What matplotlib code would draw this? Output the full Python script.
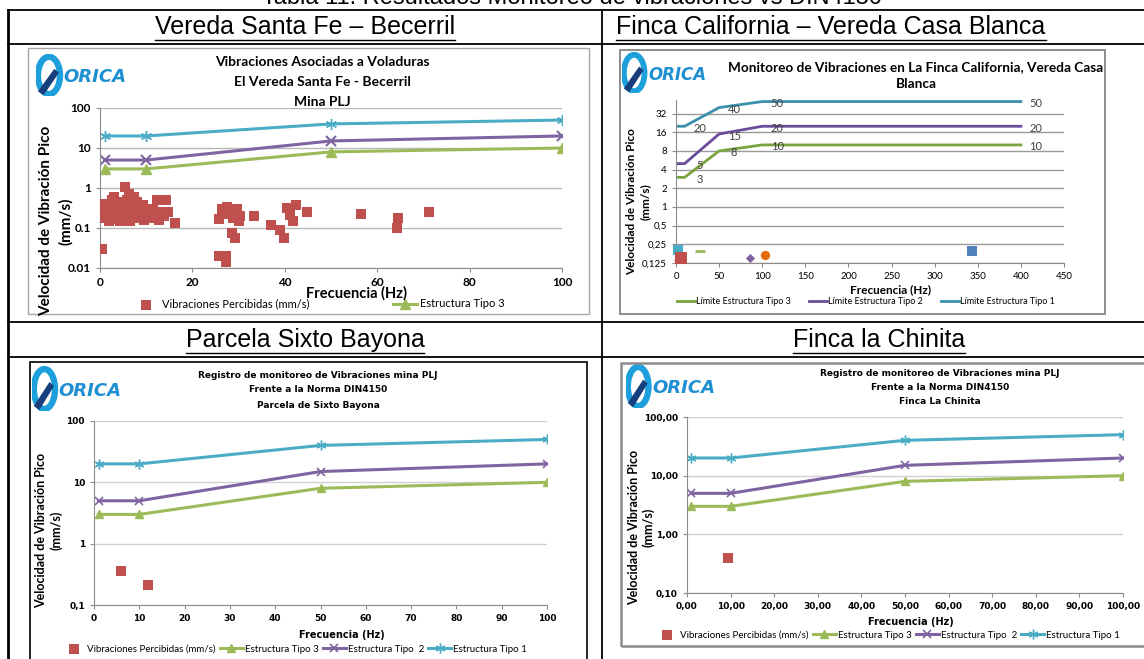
import matplotlib
matplotlib.use("Agg")
import matplotlib.pyplot as plt
from matplotlib.lines import Line2D
from matplotlib.patches import Rectangle, Ellipse, Polygon
from matplotlib.ticker import FixedLocator, FixedFormatter, NullLocator

W, H = 1144, 659

# --- datos ---
# limites DIN 4150 (frecuencia Hz, velocidad mm/s)
din_f = [1, 10, 50, 100]
din_t3 = [3, 3, 8, 10]
din_t2 = [5, 5, 15, 20]
din_t1 = [20, 20, 40, 50]

# Vereda Santa Fe - Becerril
sf_f = [0.4, 0.5, 0.8, 1.0, 1.2, 1.5, 1.8, 2.0, 2.2, 2.5, 2.8, 3.0, 3.2, 3.5, 3.8,
        4.0, 4.3, 4.5, 4.8, 5.0, 5.4, 5.6, 5.8, 6.0, 6.3, 6.5, 6.8, 7.0, 7.3, 7.5,
        7.8, 8.0, 8.3, 8.6, 9.0, 9.3, 9.6, 10.0, 10.5, 11.0, 11.5, 12.0, 12.4, 12.8,
        13.2, 13.8, 14.2, 14.8, 16.3,
        25.7, 25.7, 26.5, 27.3, 27.2, 27.5, 27.8, 28.2, 28.6, 28.8, 29.0, 29.2, 29.6,
        30.0, 30.2, 33.3, 37.1, 38.9, 39.9, 40.4, 41.2, 41.8, 42.5, 44.7,
        56.6, 64.2, 64.4, 71.3]
sf_v = [0.03, 0.25, 0.4, 0.18, 0.3, 0.22, 0.35, 0.15, 0.28, 0.5, 0.2, 0.6, 0.32, 0.17, 0.45,
        0.25, 0.15, 0.38, 0.22, 0.3, 1.05, 0.18, 0.5, 0.28, 0.7, 0.15, 0.4, 0.22, 0.6, 0.33,
        0.18, 0.45, 0.25, 0.3, 0.2, 0.38, 0.16, 0.28, 0.22, 0.18, 0.3, 0.2, 0.49, 0.16,
        0.25, 0.2, 0.49, 0.25, 0.13,
        0.17, 0.02, 0.3, 0.02, 0.0145, 0.33, 0.22, 0.28, 0.073, 0.18, 0.25, 0.055, 0.3,
        0.15, 0.2, 0.2, 0.12, 0.09, 0.057, 0.31, 0.21, 0.15, 0.37, 0.25,
        0.22, 0.10, 0.18, 0.25]

# Finca California - Vereda Casa Blanca
ca_f = [0, 10, 50, 100, 400]
ca_t3 = [3, 3, 8, 10, 10]
ca_t2 = [5, 5, 15, 20, 20]
ca_t1 = [20, 20, 40, 50, 50]
ca_ev_f = [2, 2, 6, 28, 86, 103, 343]
ca_ev_v = [0.2, 0.16, 0.15, 0.195, 0.15, 0.17, 0.195]

# Parcela Sixto Bayona / Finca la Chinita
sb_f = [6, 12]
sb_v = [0.36, 0.21]
ch_f = [9.5]
ch_v = [0.4]

C_RED, C_GRN, C_PUR, C_CYA = "#c0504d", "#9bbb59", "#8064a2", "#4bacc6"

fig = plt.figure(figsize=(W / 100, H / 100), dpi=100)
fig.patch.set_facecolor("white")


def fx(x): return x / W
def fy(y): return 1 - y / H
def box(l, t, r, b): return [l / W, 1 - b / H, (r - l) / W, (b - t) / H]


def hline(x0, x1, y, lw=1.3, c="black"):
    fig.add_artist(Line2D([fx(x0), fx(x1)], [fy(y), fy(y)], color=c, lw=lw))


def vline(x, y0, y1, lw=1.3, c="black"):
    fig.add_artist(Line2D([fx(x), fx(x)], [fy(y0), fy(y1)], color=c, lw=lw))


def frame(l, t, r, b, ec, lw):
    fig.add_artist(Rectangle((fx(l), fy(b)), (r - l) / W, (b - t) / H, fill=False,
                             ec=ec, lw=lw, transform=fig.transFigure))


HFAM = ["Liberation Sans", "DejaVu Sans"]


def header(x, y, s):
    t = fig.text(fx(x), fy(y), s, ha="center", va="center", fontsize=18, family=HFAM)
    bb = t.get_window_extent(fig.canvas.get_renderer())
    fig.add_artist(Line2D([bb.x0 / W, bb.x1 / W], [(bb.y0 - 1) / H] * 2, color="black", lw=1))


def logo(l, t, r, b, fs):
    ax = fig.add_axes(box(l, t, r, b))
    ax.set_xlim(0, 10); ax.set_ylim(0, 4.5); ax.axis("off")
    ax.add_patch(Ellipse((1.35, 2.2), 2.3, 4.0, fill=False, ec="#1d9fdb", lw=fs * 0.35))
    ax.add_patch(Polygon([(0.2, 0.5), (1.9, 2.9), (2.4, 2.5), (0.8, 0.1)], fc="#173f7d", ec="none"))
    ax.text(2.9, 2.0, "ORICA", fontsize=fs, weight="bold", style="italic", color="#1e8fd3",
            va="center", ha="left", family="DejaVu Sans")


def ylab(x1, x2, yc, fs, fam):
    fig.text(fx(x1), fy(yc), "Velocidad de Vibración Pico", ha="center", va="center",
             rotation=90, fontsize=fs, weight="bold", family=fam)
    fig.text(fx(x2), fy(yc), "(mm/s)", ha="center", va="center",
             rotation=90, fontsize=fs, weight="bold", family=fam)


# --- tabla ---
t0 = fig.text(0.5, fy(-2), "Tabla 11. Resultados Monitoreo de vibraciones vs DIN4150", ha="center",
              va="center", fontsize=17, family=HFAM)
hline(8, 1144, 10)
hline(8, 1144, 44)
hline(8, 1144, 322)
hline(8, 1144, 357)
vline(8, 10, 659, lw=2)
vline(602, 10, 659)
header(305, 27, "Vereda Santa Fe – Becerril")
header(831, 27, "Finca California – Vereda Casa Blanca")
header(305, 340, "Parcela Sixto Bayona")
header(879, 340, "Finca la Chinita")

FNT = ["Lato", "DejaVu Sans"]
TAH = ["DejaVu Sans"]


def style_ax(ax, fam, fs, gridc="#b8b8b8"):
    for s in ["top", "right"]:
        ax.spines[s].set_visible(False)
    for s in ["left", "bottom"]:
        ax.spines[s].set_color("#8c8c8c")
    ax.tick_params(colors="#8c8c8c", length=3, labelcolor="black", labelsize=fs)
    for lab in ax.get_xticklabels() + ax.get_yticklabels():
        lab.set_family(fam); lab.set_weight("bold")
    ax.grid(axis="y", color=gridc, lw=1)
    ax.set_axisbelow(True)


# --- 1. Vereda Santa Fe ---
frame(28, 48, 589, 314, "#a6a6a6", 1)
logo(36, 54, 132, 96, 13)
for i, s in enumerate(["Vibraciones Asociadas a Voladuras", "El Vereda Santa Fe - Becerril", "Mina PLJ"]):
    fig.text(fx(322), fy(62 + 20 * i), s, ha="center", va="center", fontsize=10,
             weight="bold", family=FNT)
ax1 = fig.add_axes(box(100, 108, 562, 268))
ax1.set_yscale("log")
ax1.set_xlim(0, 100); ax1.set_ylim(0.01, 100)
ax1.yaxis.set_major_locator(FixedLocator([0.01, 0.1, 1, 10, 100]))
ax1.yaxis.set_major_formatter(FixedFormatter(["0.01", "0.1", "1", "10", "100"]))
ax1.yaxis.set_minor_locator(NullLocator())
ax1.set_xticks([0, 20, 40, 60, 80, 100])
sc1 = ax1.scatter(sf_f, sf_v, marker="s", s=55, color=C_RED, lw=0, zorder=3)
l13, = ax1.plot(din_f, din_t3, color=C_GRN, lw=2.2, marker="^", ms=7)
ax1.plot(din_f, din_t2, color=C_PUR, lw=2.2, marker="x", ms=7, mew=1.5)
ax1.plot(din_f, din_t1, color=C_CYA, lw=2.2, marker=(6, 2, 0), ms=8, mew=1)
style_ax(ax1, FNT, 8.5)
fig.text(fx(357), fy(293), "Frecuencia (Hz)", ha="center", va="center", fontsize=10.5,
         weight="bold", family=FNT)
ylab(46, 66, 221, 11, FNT)
ax1.legend([sc1, l13], ["Vibraciones Percibidas (mm/s)", "Estructura Tipo 3"], ncol=2,
           loc="center left", bbox_to_anchor=(fx(134), fy(304)), bbox_transform=fig.transFigure,
           frameon=False, prop={"family": FNT, "size": 8}, handlelength=2.2,
           handletextpad=0.3, columnspacing=7.5, borderaxespad=0, borderpad=0)

# --- 2. Finca California ---
frame(620, 50, 1105, 314, "#8c8c8c", 1.4)
logo(622, 52, 712, 93, 12)
fig.text(fx(916), fy(67), "Monitoreo de Vibraciones en La Finca California, Vereda Casa",
         ha="center", va="center", fontsize=9.8, weight="bold", family=FNT)
fig.text(fx(916), fy(84), "Blanca", ha="center", va="center", fontsize=9.8, weight="bold", family=FNT)
ax2 = fig.add_axes(box(676, 100, 1064, 263))
ax2.set_yscale("log", base=2)
ax2.set_xlim(0, 450); ax2.set_ylim(0.125, 53)
yt2 = [0.125, 0.25, 0.5, 1, 2, 4, 8, 16, 32]
ax2.yaxis.set_major_locator(FixedLocator(yt2))
ax2.yaxis.set_major_formatter(FixedFormatter(["0,125", "0,25", "0,5", "1", "2", "4", "8", "16", "32"]))
ax2.yaxis.set_minor_locator(NullLocator())
ax2.set_xticks(range(0, 451, 50))
ev_sty = [("s", "#4bacc6", 45), ("^", "#f79646", 45), ("s", "#c0504d", 70), ("_", "#9bbb59", 60),
          ("D", "#8064a2", 22), ("o", "#e46c0a", 45), ("s", "#4f81bd", 45)]
for f, v, (m, c, s) in zip(ca_ev_f, ca_ev_v, ev_sty):
    ax2.scatter([f], [v], marker=m, color=c, s=s, lw=2 if m == "_" else 0, zorder=3, clip_on=False)
hs = []
for ys, c in [(ca_t3, "#7aa23f"), (ca_t2, "#6b4c9a"), (ca_t1, "#3b91ab")]:
    h, = ax2.plot(ca_f, ys, color=c, lw=2)
    hs.append(h)
    for f, v in list(zip(ca_f, ys))[1:]:
        ax2.annotate(f"{v}", (f, v), xytext=(15, -2), textcoords="offset pixels", ha="center",
                     va="center", fontsize=8, family=FNT, color="#404040")
style_ax(ax2, FNT, 7, gridc="#9a9a9a")
for lab in ax2.get_xticklabels() + ax2.get_yticklabels():
    lab.set_weight("normal")
fig.text(fx(890), fy(290), "Frecuencia (Hz)", ha="center", va="center", fontsize=8.5,
         weight="bold", family=FNT)
ylab(632, 645, 202, 8.5, FNT)
ax2.legend(hs, ["Límite Estructura Tipo 3", "Límite Estructura Tipo 2", "Límite Estructura Tipo 1"],
           ncol=3, loc="center", bbox_to_anchor=(fx(866), fy(302)), bbox_transform=fig.transFigure,
           frameon=False, prop={"family": FNT, "size": 6.5}, handlelength=2.0,
           handletextpad=0.1, columnspacing=2.0, borderaxespad=0, borderpad=0)


# --- 3 y 4: DIN4150 ---
def din_chart(axbox, ev_f, ev_v, ylabels, xlabels, titles, title_x, title_y, xlab_xy,
              ylab_xs, ylab_y, leg_x, leg_y):
    ax = fig.add_axes(box(*axbox))
    ax.set_yscale("log")
    ax.set_xlim(0, 100); ax.set_ylim(0.1, 100)
    ax.yaxis.set_major_locator(FixedLocator([0.1, 1, 10, 100]))
    ax.yaxis.set_major_formatter(FixedFormatter(ylabels))
    ax.yaxis.set_minor_locator(NullLocator())
    ax.xaxis.set_major_locator(FixedLocator(range(0, 101, 10)))
    ax.xaxis.set_major_formatter(FixedFormatter(xlabels))
    sc = ax.scatter(ev_f, ev_v, marker="s", s=45, color=C_RED, lw=0, zorder=3)
    a, = ax.plot(din_f, din_t3, color=C_GRN, lw=2.2, marker="^", ms=6)
    b, = ax.plot(din_f, din_t2, color=C_PUR, lw=2.2, marker="x", ms=6, mew=1.2)
    c, = ax.plot(din_f, din_t1, color=C_CYA, lw=2.2, marker=(6, 2, 0), ms=7, mew=1)
    style_ax(ax, TAH, 6.5, gridc="#d0d0d0")
    for i, s in enumerate(titles):
        fig.text(fx(title_x), fy(title_y[i]), s, ha="center", va="center", fontsize=6.5,
                 weight="bold", family=TAH)
    fig.text(fx(xlab_xy[0]), fy(xlab_xy[1]), "Frecuencia (Hz)", ha="center", va="center",
             fontsize=7, weight="bold", family=TAH)
    ylab(ylab_xs[0], ylab_xs[1], ylab_y, 9, FNT)
    ax.legend([sc, a, b, c], ["Vibraciones Percibidas (mm/s)", "Estructura Tipo 3",
                              "Estructura Tipo  2", "Estructura Tipo 1"],
              ncol=4, loc="center left", bbox_to_anchor=(fx(leg_x), fy(leg_y)),
              bbox_transform=fig.transFigure, frameon=False, prop={"family": FNT, "size": 7},
              handlelength=2.4, handletextpad=0.2, columnspacing=0.4, borderaxespad=0, borderpad=0)
    return ax


frame(30, 362, 587, 670, "black", 1.2)
logo(32, 366, 124, 411, 13)
din_chart((94, 421, 547, 605), sb_f, sb_v, ["0,1", "1", "10", "100"],
          [str(v) for v in range(0, 101, 10)],
          ["Registro de monitoreo de Vibraciones mina PLJ", "Frente a la Norma DIN4150",
           "Parcela de Sixto Bayona"], 318, [375, 390, 405], (342, 635), (41, 56), 530, 62, 649)

frame(621, 363, 1150, 646, "#8c8c8c", 1.8)
logo(626, 364, 716, 408, 13)
din_chart((687, 417, 1123, 593), ch_f, ch_v, ["0,10", "1,00", "10,00", "100,00"],
          [f"{v},00" for v in range(0, 101, 10)],
          ["Registro de monitoreo de Vibraciones mina PLJ", "Frente a la Norma DIN4150",
           "Finca La Chinita"], 940, [374, 388, 402], (911, 622), (634, 648), 527, 655, 635)

fig.savefig("out.png", dpi=100)
